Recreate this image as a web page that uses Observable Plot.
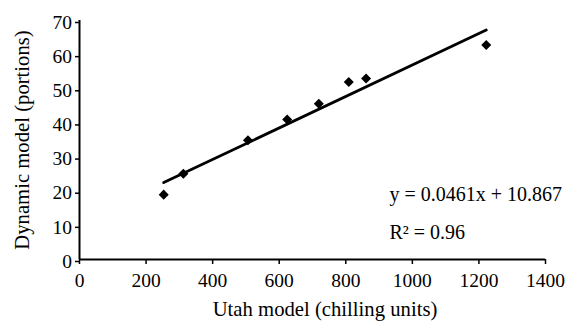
<!DOCTYPE html>
<html>
<head>
<meta charset="utf-8">
<script src="https://cdn.jsdelivr.net/npm/d3@7"></script>
<script src="https://cdn.jsdelivr.net/npm/@observablehq/plot@0.6"></script>
<style>
  html, body { margin: 0; padding: 0; background: #fff; }
  svg { display: block; }
  #chart svg, #chart svg text { font-family: "Liberation Serif", "Times New Roman", serif !important; }
</style>
</head>
<body>
<div id="chart"></div>
<script>
// Data
const utahUnits = [253, 312, 506, 624, 719, 809, 861, 1222];
const dynamicPortions = [19.0, 25.1, 34.9, 41.0, 45.6, 52.0, 53.0, 62.8];

// Regression shown on the chart
const slope = 0.0461;
const intercept = 10.867;
const equationLabel = "y = 0.0461x + 10.867";
const r2Label = "R\u00B2 = 0.96";

const xTicks = [0, 200, 400, 600, 800, 1000, 1200, 1400];
const yTicks = [0, 10, 20, 30, 40, 50, 60, 70];
const xTitle = "Utah model (chilling units)";
const yTitle = "Dynamic model (portions)";

const points = utahUnits.map((u, i) => ({x: u, y: dynamicPortions[i]}));
const xExtent = d3.extent(utahUnits);
const fitLine = xExtent.map(x => ({x, y: slope * x + intercept}));

const font = "Liberation Serif";

const chart = Plot.plot({
  width: 569,
  height: 323,
  marginLeft: 79,
  marginRight: 24,
  marginTop: 20,
  marginBottom: 64,
  style: {fontFamily: font, fontSize: "19.5px", color: "#000", background: "#fff"},
  x: {domain: [0, 1400]},
  y: {domain: [0, 70]},
  marks: [
    Plot.axisX({ticks: xTicks, tickSize: 5, tickPadding: 9, tickFormat: d => String(d), label: null, strokeWidth: 1.5, fontSize: 19.5, fontFamily: font}),
    Plot.axisY({ticks: yTicks, tickSize: 4, tickPadding: 3.5, tickFormat: d => String(d), label: null, strokeWidth: 1.5, fontSize: 19.5, fontFamily: font, dy: 2}),
    Plot.ruleY([0], {stroke: "#000", strokeWidth: 2}),
    Plot.ruleX([0], {stroke: "#000", strokeWidth: 2}),
    Plot.line(fitLine, {x: "x", y: "y", stroke: "#000", strokeWidth: 2.8}),
    Plot.dot(points, {x: "x", y: "y", symbol: "square", r: 4, rotate: 45, fill: "#000", stroke: "none"}),
    Plot.text([equationLabel], {frameAnchor: "bottom-left", dx: 310, dy: -59, textAnchor: "start", lineAnchor: "bottom", fontSize: 20, fontFamily: font, fill: "#000"}),
    Plot.text([r2Label], {frameAnchor: "bottom-left", dx: 310, dy: -21, textAnchor: "start", lineAnchor: "bottom", fontSize: 20, fontFamily: font, fill: "#000"}),
    Plot.text([xTitle], {frameAnchor: "bottom", dx: 12.5, dy: 56, textAnchor: "middle", lineAnchor: "bottom", fontSize: 20.7, fontFamily: font, fill: "#000"}),
    Plot.text([yTitle], {frameAnchor: "left", dx: -51, textAnchor: "middle", lineAnchor: "bottom", rotate: -90, fontSize: 20.7, fontFamily: font, fill: "#000"})
  ]
});
document.getElementById("chart").appendChild(chart);
</script>
</body>
</html>
